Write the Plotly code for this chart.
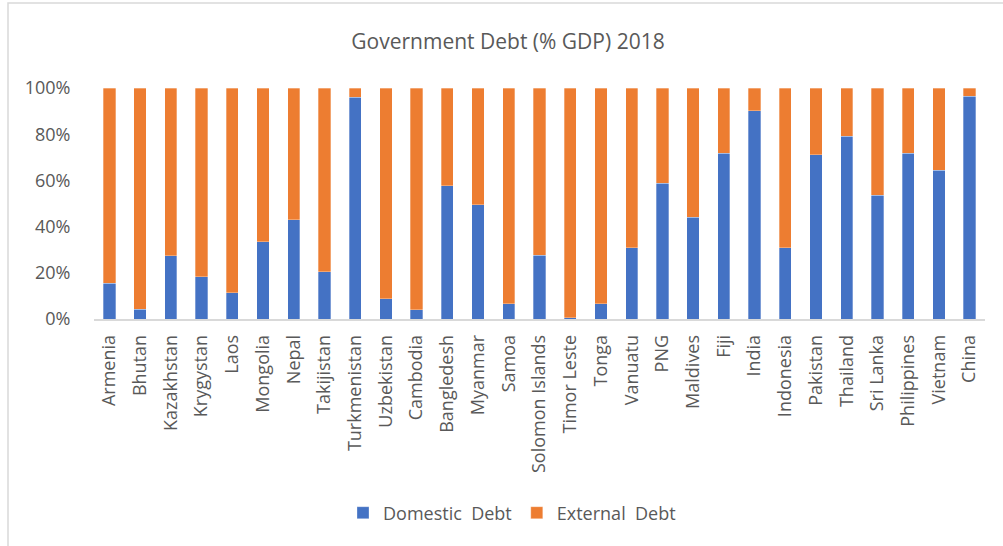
import plotly.graph_objects as go

countries = ["Armenia", "Bhutan", "Kazakhstan", "Krygystan", "Laos", "Mongolia", "Nepal",
             "Takijistan", "Turkmenistan", "Uzbekistan", "Cambodia", "Bangledesh", "Myanmar",
             "Samoa", "Solomon Islands", "Timor Leste", "Tonga", "Vanuatu", "PNG", "Maldives",
             "Fiji", "India", "Indonesia", "Pakistan", "Thailand", "Sri Lanka", "Philippines",
             "Vietnam", "China"]
domestic = [15.4, 4.2, 27.4, 18.3, 11.4, 33.5, 43.0, 20.5, 96.0, 8.7, 4.1, 57.7, 49.4,
            6.7, 27.5, 0.5, 6.7, 30.9, 58.7, 44.0, 71.7, 90.2, 30.9, 71.1, 79.2, 53.5,
            71.7, 64.5, 96.5]
external = [100 - d for d in domestic]
series_names = ["Domestic  Debt", "External  Debt"]
title_text = "Government Debt (% GDP) 2018"

W, H = 1003, 546
L, R, T, B = 94, 18, 88, 227
PW, PH = W - L - R, H - T - B

def px_x(x):
    return (x - L) / PW

def px_y(y):
    return (H - B - y) / PH

FONT = "Open Sans"
GRAY = "#595959"

fig = go.Figure()
fig.add_trace(go.Bar(x=countries, y=[d / 100 for d in domestic], name=series_names[0],
                     marker=dict(color="#4472C4", line=dict(color="rgba(255,255,255,0.5)", width=0.6))))
fig.add_trace(go.Bar(x=countries, y=[e / 100 for e in external], name=series_names[1],
                     marker=dict(color="#ED7D31", line=dict(color="rgba(255,255,255,0.5)", width=0.6))))

fig.update_layout(
    barmode="stack",
    bargap=0.6,
    width=W, height=H,
    margin=dict(l=L, r=R, t=T, b=B, pad=0),
    paper_bgcolor="white", plot_bgcolor="white",
    font=dict(family=FONT, size=18, color=GRAY),
    title=dict(text=title_text, x=508 / W, xanchor="center", y=1 - 42 / H, yanchor="middle",
               font=dict(family=FONT, size=21, color=GRAY)),
    legend=dict(orientation="h", x=px_x(512), xanchor="center", y=px_y(513), yanchor="middle",
                font=dict(family=FONT, size=18, color=GRAY), traceorder="normal",
                itemclick=False),
    xaxis=dict(showline=True, linecolor="#D9D9D9", linewidth=1.5, tickangle=-90,
               ticks="outside", ticklen=7, tickcolor="rgba(0,0,0,0)",
               tickfont=dict(family=FONT, size=18, color=GRAY), showgrid=False),
    yaxis=dict(range=[0, 1], dtick=0.2, tickformat=".0%", showline=False, showgrid=False,
               zeroline=False, ticks="outside", ticklen=19, tickcolor="rgba(0,0,0,0)",
               tickfont=dict(family=FONT, size=18, color=GRAY)),
    shapes=[dict(type="rect", xref="paper", yref="paper",
                 x0=px_x(8), x1=px_x(W + 20), y0=px_y(H + 20), y1=px_y(3),
                 line=dict(color="#D9D9D9", width=1.5), fillcolor="rgba(0,0,0,0)", layer="below")],
)

fig.write_html("out.html")
